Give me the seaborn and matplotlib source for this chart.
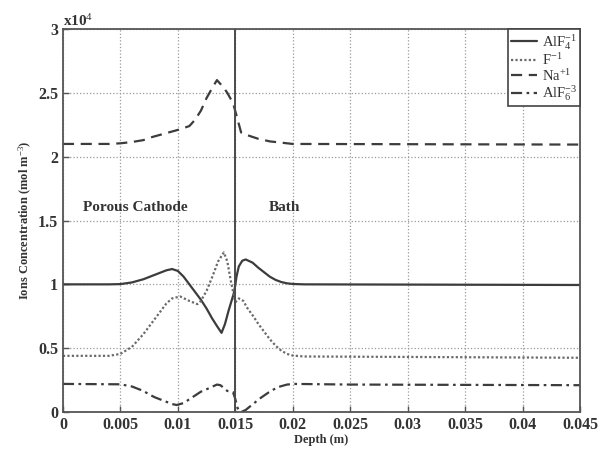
import numpy as np
import pandas as pd
import seaborn as sns
import matplotlib.pyplot as plt

# values (depth in m, concentration in mol m^-3)
depth_alf4 = [0, 0.004, 0.005, 0.006, 0.007, 0.008, 0.009, 0.0095, 0.010, 0.0105,
              0.011, 0.0115, 0.012, 0.0125, 0.013, 0.0135, 0.0138, 0.0141, 0.0144,
              0.0147, 0.0149, 0.0151, 0.0153, 0.0156, 0.0159, 0.0165, 0.017, 0.0175,
              0.018, 0.0185, 0.019, 0.0195, 0.020, 0.021, 0.045]
conc_alf4 = [10000, 10000, 10020, 10150, 10400, 10750, 11100, 11200, 11050, 10600,
             10000, 9400, 8800, 8100, 7300, 6600, 6200, 6900, 7900,
             8800, 9400, 10600, 11400, 11850, 11950, 11700, 11300, 10950,
             10600, 10350, 10180, 10080, 10030, 10000, 9950]

depth_f = [0, 0.004, 0.005, 0.006, 0.007, 0.008, 0.009, 0.0095, 0.0102, 0.011,
           0.0117, 0.012, 0.0125, 0.013, 0.0135, 0.014, 0.0143, 0.0146, 0.0149,
           0.015, 0.0153, 0.0157, 0.016, 0.0166, 0.017, 0.0175, 0.018, 0.0185,
           0.019, 0.0195, 0.020, 0.021, 0.045]
conc_f = [4400, 4400, 4550, 5100, 6100, 7300, 8500, 8900, 9050, 8700,
          8450, 8700, 9500, 10600, 11800, 12500, 11800, 10300, 9000,
          8600, 8900, 8700, 8200, 7450, 6900, 6300, 5700, 5200,
          4800, 4550, 4420, 4350, 4250]

depth_na = [0, 0.004, 0.005, 0.006, 0.007, 0.0076, 0.008, 0.009, 0.010, 0.011,
            0.0115, 0.012, 0.0125, 0.013, 0.0134, 0.014, 0.0143, 0.0148, 0.0152,
            0.0155, 0.016, 0.017, 0.018, 0.019, 0.020, 0.045]
conc_na = [21000, 21000, 21050, 21150, 21300, 21500, 21600, 21850, 22100, 22400,
           22900, 23600, 24600, 25400, 26000, 25400, 25000, 24200, 22900,
           21900, 21700, 21400, 21200, 21100, 21000, 20950]

depth_alf6 = [0, 0.005, 0.006, 0.007, 0.0076, 0.008, 0.009, 0.0095, 0.0099, 0.0105,
              0.011, 0.012, 0.0128, 0.0134, 0.0137, 0.014, 0.0143, 0.0148, 0.015,
              0.0152, 0.0155, 0.0159, 0.0165, 0.0172, 0.018, 0.0187, 0.0195, 0.0201,
              0.025, 0.045]
conc_alf6 = [2200, 2170, 2000, 1650, 1330, 1150, 800, 620, 550, 700,
             1000, 1590, 1900, 2150, 2100, 1880, 1650, 1550, 1000,
             300, 0, 160, 600, 1100, 1600, 1950, 2150, 2200,
             2150, 2100]

ion_labels = [r'AlF$_4^{-1}$', r'F$^{-1}$', r'Na$^{+1}$', r'AlF$_6^{-3}$']
x_ticks = [0, 0.005, 0.01, 0.015, 0.02, 0.025, 0.03, 0.035, 0.04, 0.045]
x_tick_labels = ['0', '0.005', '0.01', '0.015', '0.02', '0.025', '0.03', '0.035', '0.04', '0.045']
y_ticks = [0, 5000, 10000, 15000, 20000, 25000, 30000]
y_tick_labels = ['0', '0.5', '1', '1.5', '2', '2.5', '3']
interface_depth = 0.015

frames = []
for lab, d, c in zip(ion_labels,
                     [depth_alf4, depth_f, depth_na, depth_alf6],
                     [conc_alf4, conc_f, conc_na, conc_alf6]):
    frames.append(pd.DataFrame({'depth': d, 'conc': c, 'ion': lab}))
df = pd.concat(frames, ignore_index=True)

sns.set_style('ticks')
plt.rcParams['font.family'] = ['Liberation Serif', 'DejaVu Serif']
plt.rcParams['mathtext.fontset'] = 'custom'
plt.rcParams['mathtext.rm'] = 'Liberation Serif'
plt.rcParams['mathtext.it'] = 'Liberation Serif:italic'
plt.rcParams['mathtext.bf'] = 'Liberation Serif:bold'

fig = plt.figure(figsize=(6.05, 4.54), dpi=100)
ax = fig.add_axes([0.104, 0.0925, 0.855, 0.8435])

line_col = '#3c3c3c'
palette = {ion_labels[0]: line_col, ion_labels[1]: '#6a6a6a',
           ion_labels[2]: line_col, ion_labels[3]: line_col}
dashes = {ion_labels[0]: '', ion_labels[1]: (1, 1),
          ion_labels[2]: (5, 3), ion_labels[3]: (5, 2, 1.2, 2)}
sns.lineplot(data=df, x='depth', y='conc', hue='ion', style='ion',
             palette=palette, dashes=dashes, estimator=None, sort=False,
             linewidth=1.6, ax=ax)

ax.axvline(interface_depth, color='#4a4a4a', lw=1.4)

ax.set_xlim(0, 0.045)
ax.set_ylim(0, 30000)
ax.set_xticks(x_ticks)
ax.set_xticklabels(x_tick_labels)
ax.set_yticks(y_ticks)
ax.set_yticklabels(y_tick_labels)
ax.tick_params(direction='in', length=4, labelsize=11.5, width=1, color='#555555')
for t in ax.get_xticklabels() + ax.get_yticklabels():
    t.set_fontweight('bold')
    t.set_color('#333333')
for s in ax.spines.values():
    s.set_linewidth(1.3)
    s.set_color('#555555')
ax.grid(True, linestyle=':', color='#9a9a9a', lw=0.9)

ax.set_xlabel('Depth (m)', fontsize=9, fontweight='bold', color='#333333', labelpad=1)
ax.set_ylabel('Ions Concentration (mol m$^{-3}$)', fontsize=9, fontweight='bold',
              color='#333333', labelpad=3)

ax.text(0.0, 1.0, r'x10$^4$', transform=ax.transAxes, fontsize=11, color='#333333',
        ha='left', va='bottom', fontweight='bold')

ax.text(0.00175, 16000, 'Porous Cathode', fontsize=11, fontweight='bold',
        color='#333333', va='center')
ax.text(0.0179, 16000, 'Bath', fontsize=11, fontweight='bold',
        color='#333333', va='center')

leg = ax.legend(loc='upper right', borderaxespad=0, fancybox=False,
                framealpha=1, edgecolor='#444444', fontsize=10.5,
                handlelength=1.8, handletextpad=0.3, labelspacing=0.0,
                borderpad=0.2)
leg.get_frame().set_linewidth(1.2)
for t in leg.get_texts():
    t.set_color('#333333')

fig.savefig('out.png', dpi=100)
